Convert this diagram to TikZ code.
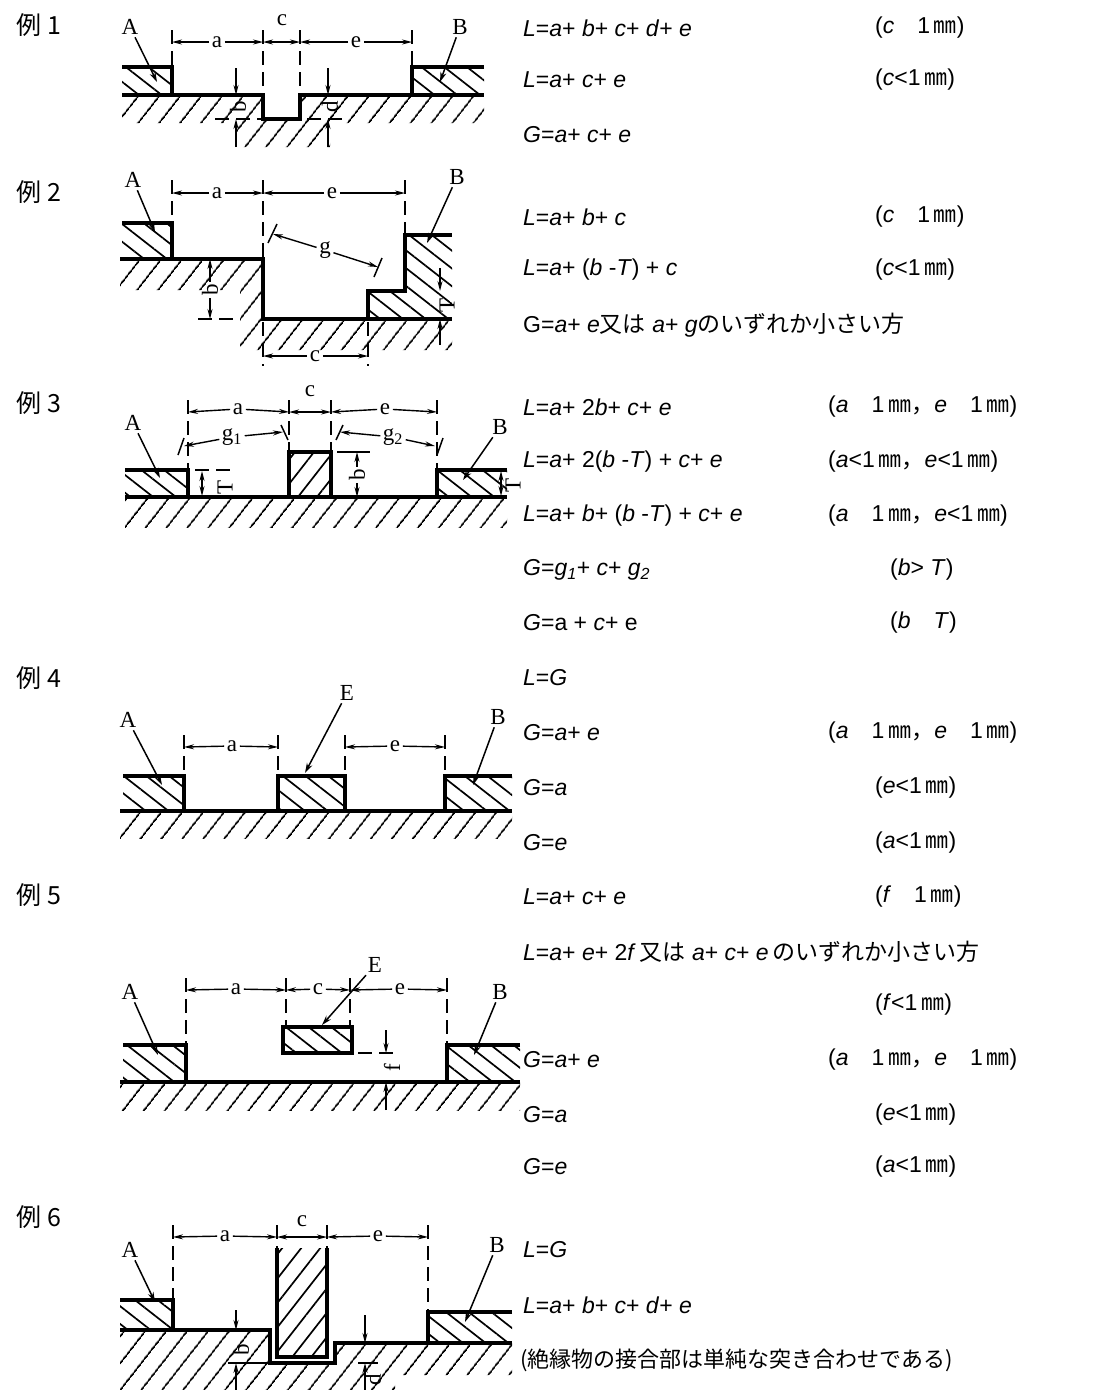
\documentclass[tikz,border=0pt]{standalone}
\usepackage{fontspec}
\usepackage{tikz}
\usetikzlibrary{arrows.meta,patterns.meta}
\setmainfont{Liberation Sans}
\newfontfamily\jpfont{Noto Sans CJK JP}
\newfontfamily\lbfont{Liberation Serif}
\newcommand{\fv}[1]{\textit{#1}}
\newcommand{\jp}[1]{{\jpfont #1}}
\newcommand{\gap}{\hspace{1em}}
\tikzset{
  body/.style={draw=black, line width=3.2pt, line join=miter},
  ext/.style={draw=black, line width=2pt, dash pattern=on 14pt off 7pt},
  dim/.style={draw=black, line width=1.4pt, -{Stealth[length=10pt,width=5pt]}},
  leader/.style={draw=black, line width=1.5pt, -{Stealth[length=10pt,width=6pt]}},
  tick/.style={draw=black, line width=1.5pt},
  gnd/.style={pattern={Lines[angle=52,distance=17pt,line width=1.8pt]}},
  ins/.style={pattern={Lines[angle=-38,distance=14pt,line width=1.7pt]}},
  post/.style={pattern={Lines[angle=52,distance=15pt,line width=1.7pt]}},
  lbl/.style={font=\lbfont\fontsize{23}{26}\selectfont, inner sep=2.5pt},
  exno/.style={font=\jpfont\fontsize{25}{28}\selectfont, inner sep=0pt},
  eq/.style={anchor=west, inner sep=0pt, font=\fontsize{23}{27}\selectfont}
}
\begin{document}
\begin{tikzpicture}[x=1pt, y=-1pt]
\useasboundingbox[fill=white] (0,0) rectangle (1097,1390);

% example 1
\node[exno] (n1) at (39,25) {例 1};
\fill[gnd] (122,95) -- (263,95) -- (263,119) -- (300,119) -- (300,95) -- (484,95) -- (484,123) -- (330,123) -- (330,147) -- (235,147) -- (235,123) -- (122,123) -- cycle;
\fill[ins] (122,67) rectangle (172,95);
\fill[ins] (412,67) rectangle (484,95);
\draw[body] (122,67) -- (172,67) -- (172,95);
\draw[body] (484,67) -- (412,67) -- (412,95);
\draw[body] (122,95) -- (263,95) -- (263,119) -- (300,119) -- (300,95) -- (484,95);
\draw[ext] (172,30) -- (172,67);
\draw[ext] (263,30) -- (263,95);
\draw[ext] (300,30) -- (300,95);
\draw[ext] (412,30) -- (412,67);
\node[lbl] (a1) at (217,42) {a};
\draw[dim] (a1) -- (172,42);
\draw[dim] (a1) -- (263,42);
\node[lbl] (c1) at (282,20) {c};
\coordinate (c1m) at (282,42);
\draw[dim] (c1m) -- (263,42);
\draw[dim] (c1m) -- (300,42);
\node[lbl] (e1) at (356,42) {e};
\draw[dim] (e1) -- (300,42);
\draw[dim] (e1) -- (412,42);
\node[lbl] (A1) at (130,27) {A};
\draw[leader] (A1) -- (157,82);
\node[lbl] (B1) at (460,27) {B};
\draw[leader] (B1) -- (440,82);
\draw[ext] (215,119) -- (263,119);
\draw[ext] (307,119) -- (345,119);
\node[lbl, rotate=90] (b1) at (238,107) {b};
\draw[dim] (236,68) -- (236,95);
\draw[dim] (236,147) -- (236,119);
\node[lbl, rotate=90] (d1) at (330,107) {d};
\draw[dim] (328,68) -- (328,95);
\draw[dim] (328,147) -- (328,119);

% example 2
\node[exno] (n2) at (39,192) {例 2};
\fill[gnd] (120,259) -- (263,259) -- (263,319) -- (452,319) -- (452,350) -- (240,350) -- (240,290) -- (120,290) -- cycle;
\fill[ins] (122,223) rectangle (172,259);
\fill[ins] (368,319) -- (368,291) -- (405,291) -- (405,235) -- (452,235) -- (452,319) -- cycle;
\draw[body] (122,223) -- (172,223) -- (172,259);
\draw[body] (368,319) -- (368,291) -- (405,291) -- (405,235) -- (452,235);
\draw[body] (120,259) -- (263,259) -- (263,319) -- (452,319);
\draw[ext] (172,180) -- (172,223);
\draw[ext] (263,180) -- (263,259);
\draw[ext] (405,180) -- (405,235);
\node[lbl] (a2) at (217,193) {a};
\draw[dim] (a2) -- (172,193);
\draw[dim] (a2) -- (263,193);
\node[lbl] (e2) at (332,193) {e};
\draw[dim] (e2) -- (263,193);
\draw[dim] (e2) -- (405,193);
\node[lbl] (A2) at (133,180) {A};
\draw[leader] (A2) -- (155,232);
\node[lbl] (B2) at (457,177) {B};
\draw[leader] (B2) -- (427,243);
\node[lbl] (g2) at (325,250) {g};
\draw[dim] (g2) -- (273,234);
\draw[dim] (g2) -- (378,267);
\draw[tick] (268,243) -- (277,224);
\draw[tick] (374,277) -- (382,258);
\node[lbl, rotate=90] (b2) at (210,290) {b};
\draw[dim] (b2) -- (210,259);
\draw[dim] (b2) -- (210,319);
\draw[ext] (198,319) -- (240,319);
\node[lbl, rotate=90] (T2) at (447,305) {T};
\draw[dim] (440,268) -- (440,291);
\draw[dim] (440,345) -- (440,319);
\draw[ext] (263,322) -- (263,366);
\draw[ext] (368,322) -- (368,366);
\node[lbl] (c2) at (315,356) {c};
\draw[dim] (c2) -- (263,356);
\draw[dim] (c2) -- (368,356);

% example 3
\node[exno] (n3) at (39,403) {例 3};
\fill[gnd] (125,497) rectangle (507,527);
\fill[ins] (125,470) rectangle (188,497);
\fill[ins] (437,470) rectangle (507,497);
\fill[post] (289,452) rectangle (331,497);
\draw[body] (125,470) -- (188,470) -- (188,497);
\draw[body] (289,497) -- (289,452) -- (331,452) -- (331,497);
\draw[body] (507,470) -- (437,470) -- (437,497);
\draw[body] (125,497) -- (507,497);
\draw[ext] (188,400) -- (188,470);
\draw[ext] (289,400) -- (289,452);
\draw[ext] (331,400) -- (331,452);
\draw[ext] (437,400) -- (437,470);
\node[lbl] (a3) at (238,409) {a};
\draw[dim] (a3) -- (188,412);
\draw[dim] (a3) -- (289,412);
\node[lbl] (c3) at (310,391) {c};
\coordinate (c3m) at (310,412);
\draw[dim] (c3m) -- (289,412);
\draw[dim] (c3m) -- (331,412);
\node[lbl] (e3) at (385,409) {e};
\draw[dim] (e3) -- (331,412);
\draw[dim] (e3) -- (437,412);
\node[lbl] (A3) at (133,423) {A};
\draw[leader] (A3) -- (160,478);
\node[lbl] (B3) at (500,427) {B};
\draw[leader] (B3) -- (463,480);
\node[lbl] (g31) at (232,437) {g\textsubscript{1}};
\draw[dim] (g31) -- (184,446);
\draw[dim] (g31) -- (283,432);
\draw[tick] (178,455) -- (184,438);
\draw[tick] (281,425) -- (288,440);
\node[lbl] (g32) at (393,437) {g\textsubscript{2}};
\draw[dim] (g32) -- (340,432);
\draw[dim] (g32) -- (435,446);
\draw[tick] (336,440) -- (343,425);
\draw[tick] (437,455) -- (443,438);
\draw[ext] (195,470) -- (232,470);
\node[lbl, rotate=90] (T31) at (225,487) {T};
\draw[dim] (202,484) -- (202,471);
\draw[dim] (202,484) -- (202,496);
\draw[tick] (337,452) -- (370,452);
\node[lbl, rotate=90] (b3) at (357,475) {b};
\draw[dim] (b3) -- (357,452);
\draw[dim] (b3) -- (357,497);
\node[lbl, rotate=90, inner sep=0pt] (T32) at (513,485) {T};
\draw[dim] (501,484) -- (501,471);
\draw[dim] (501,484) -- (501,496);

% example 4
\node[exno] (n4) at (39,678) {例 4};
\fill[gnd] (120,811) rectangle (512,838);
\fill[ins] (123,776) rectangle (184,811);
\fill[ins] (278,776) rectangle (345,811);
\fill[ins] (445,776) rectangle (512,811);
\draw[body] (123,776) -- (184,776) -- (184,811);
\draw[body] (278,811) -- (278,776) -- (345,776) -- (345,811);
\draw[body] (512,776) -- (445,776) -- (445,811);
\draw[body] (120,811) -- (512,811);
\draw[ext] (184,735) -- (184,776);
\draw[ext] (278,735) -- (278,776);
\draw[ext] (345,735) -- (345,776);
\draw[ext] (445,735) -- (445,776);
\node[lbl] (a4) at (232,746) {a};
\draw[dim] (a4) -- (184,747);
\draw[dim] (a4) -- (278,747);
\node[lbl] (e4) at (395,746) {e};
\draw[dim] (e4) -- (345,747);
\draw[dim] (e4) -- (445,747);
\node[lbl] (A4) at (128,720) {A};
\draw[leader] (A4) -- (162,785);
\node[lbl] (E4) at (347,693) {E};
\draw[leader] (E4) -- (305,773);
\node[lbl] (B4) at (498,717) {B};
\draw[leader] (B4) -- (473,785);

% example 5
\node[exno] (n5) at (39,895) {例 5};
\fill[gnd] (120,1082) rectangle (520,1110);
\fill[ins] (123,1045) rectangle (186,1082);
\fill[ins] (283,1027) rectangle (352,1053);
\fill[ins] (447,1045) rectangle (520,1082);
\draw[body] (123,1045) -- (186,1045) -- (186,1082);
\draw[body] (283,1027) rectangle (352,1053);
\draw[body] (520,1045) -- (447,1045) -- (447,1082);
\draw[body] (120,1082) -- (520,1082);
\draw[ext] (186,978) -- (186,1045);
\draw[ext] (286,978) -- (286,1027);
\draw[ext] (350,978) -- (350,1027);
\draw[ext] (447,978) -- (447,1045);
\node[lbl] (a5) at (236,989) {a};
\draw[dim] (a5) -- (186,990);
\draw[dim] (a5) -- (286,990);
\node[lbl] (c5) at (318,989) {c};
\draw[dim] (c5) -- (286,990);
\draw[dim] (c5) -- (350,990);
\node[lbl] (e5) at (400,989) {e};
\draw[dim] (e5) -- (350,990);
\draw[dim] (e5) -- (447,990);
\node[lbl] (A5) at (130,992) {A};
\draw[leader] (A5) -- (158,1055);
\node[lbl] (E5) at (375,965) {E};
\draw[leader] (E5) -- (322,1025);
\node[lbl] (B5) at (500,992) {B};
\draw[leader] (B5) -- (474,1055);
\draw[ext] (358,1053) -- (395,1053);
\node[lbl, rotate=90] (f5) at (392,1068) {f};
\draw[dim] (386,1030) -- (386,1053);
\draw[dim] (386,1110) -- (386,1082);

% example 6
\node[exno] (n6) at (39,1217) {例 6};
\fill[gnd] (120,1330) -- (270,1330) -- (270,1363) -- (335,1363) -- (335,1343) -- (512,1343) -- (512,1375) -- (395,1375) -- (395,1390) -- (120,1390) -- cycle;
\fill[ins] (120,1300) rectangle (173,1330);
\fill[ins] (428,1312) rectangle (512,1343);
\fill[post] (277,1248) rectangle (327,1357);
\draw[body] (120,1300) -- (173,1300) -- (173,1330);
\draw[body] (512,1312) -- (428,1312) -- (428,1343);
\draw[body] (120,1330) -- (270,1330) -- (270,1363) -- (335,1363) -- (335,1343) -- (512,1343);
\draw[body] (277,1248) -- (277,1357) -- (327,1357) -- (327,1248);
\draw[ext] (173,1225) -- (173,1300);
\draw[ext] (277,1225) -- (277,1248);
\draw[ext] (327,1225) -- (327,1248);
\draw[ext] (428,1225) -- (428,1312);
\node[lbl] (a6) at (225,1236) {a};
\draw[dim] (a6) -- (173,1237);
\draw[dim] (a6) -- (277,1237);
\node[lbl] (c6) at (302,1221) {c};
\coordinate (c6m) at (302,1237);
\draw[dim] (c6m) -- (277,1237);
\draw[dim] (c6m) -- (327,1237);
\node[lbl] (e6) at (378,1236) {e};
\draw[dim] (e6) -- (327,1237);
\draw[dim] (e6) -- (428,1237);
\node[lbl] (A6) at (130,1250) {A};
\draw[leader] (A6) -- (155,1302);
\node[lbl] (B6) at (497,1245) {B};
\draw[leader] (B6) -- (465,1322);
\draw[dim] (236,1310) -- (236,1330);
\draw[dim] (236,1390) -- (236,1363);
\node[lbl, rotate=90] (b6) at (241,1350) {b};
\draw[tick] (228,1363) -- (270,1363);
\draw[dim] (365,1315) -- (365,1343);
\draw[dim] (365,1392) -- (365,1363);
\draw[tick] (358,1363) -- (378,1363);
\node[lbl, rotate=90] (d6) at (373,1380) {d};

% formulas
\node[eq] (f1a) at (523,28) {\fv{L}=\fv{a}+ \fv{b}+ \fv{c}+ \fv{d}+ \fv{e}};
\node[eq] (k1a) at (875,28) {(\fv{c}\gap 1\,\jp{㎜})};
\node[eq] (f1b) at (523,80) {\fv{L}=\fv{a}+ \fv{c}+ \fv{e}};
\node[eq] (k1b) at (875,80) {(\fv{c}<1\,\jp{㎜})};
\node[eq] (f1c) at (523,135) {\fv{G}=\fv{a}+ \fv{c}+ \fv{e}};

\node[eq] (f2a) at (523,217) {\fv{L}=\fv{a}+ \fv{b}+ \fv{c}};
\node[eq] (k2a) at (875,217) {(\fv{c}\gap 1\,\jp{㎜})};
\node[eq] (f2b) at (523,270) {\fv{L}=\fv{a}+ (\fv{b} -\fv{T}) + \fv{c}};
\node[eq] (k2b) at (875,270) {(\fv{c}<1\,\jp{㎜})};
\node[eq] (f2c) at (523,325) {G=\fv{a}+ \fv{e}\jp{又は} \fv{a}+ \fv{g}\jp{のいずれか小さい方}};

\node[eq] (f3a) at (523,407) {\fv{L}=\fv{a}+ 2\fv{b}+ \fv{c}+ \fv{e}};
\node[eq] (k3a) at (828,407) {(\fv{a}\gap 1\,\jp{㎜，}\fv{e}\gap 1\,\jp{㎜})};
\node[eq] (f3b) at (523,462) {\fv{L}=\fv{a}+ 2(\fv{b} -\fv{T}) + \fv{c}+ \fv{e}};
\node[eq] (k3b) at (828,462) {(\fv{a}<1\,\jp{㎜，}\fv{e}<1\,\jp{㎜})};
\node[eq] (f3c) at (523,516) {\fv{L}=\fv{a}+ \fv{b}+ (\fv{b} -\fv{T}) + \fv{c}+ \fv{e}};
\node[eq] (k3c) at (828,516) {(\fv{a}\gap 1\,\jp{㎜，}\fv{e}<1\,\jp{㎜})};
\node[eq] (f3d) at (523,570) {\fv{G}=\fv{g}\textsubscript{\fv{1}}+ \fv{c}+ \fv{g}\textsubscript{\fv{2}}};
\node[eq] (k3d) at (890,570) {(\fv{b}> \fv{T})};
\node[eq] (f3e) at (523,623) {\fv{G}=a + \fv{c}+ e};
\node[eq] (k3e) at (890,623) {(\fv{b}\gap\fv{T})};

\node[eq] (f4a) at (523,678) {\fv{L}=\fv{G}};
\node[eq] (f4b) at (523,733) {\fv{G}=\fv{a}+ \fv{e}};
\node[eq] (k4b) at (828,733) {(\fv{a}\gap 1\,\jp{㎜，}\fv{e}\gap 1\,\jp{㎜})};
\node[eq] (f4c) at (523,788) {\fv{G}=\fv{a}};
\node[eq] (k4c) at (875,788) {(\fv{e}<1\,\jp{㎜})};
\node[eq] (f4d) at (523,843) {\fv{G}=\fv{e}};
\node[eq] (k4d) at (875,843) {(\fv{a}<1\,\jp{㎜})};

\node[eq] (f5a) at (523,897) {\fv{L}=\fv{a}+ \fv{c}+ \fv{e}};
\node[eq] (k5a) at (875,897) {(\fv{f}\gap 1\,\jp{㎜})};
\node[eq] (f5b) at (523,952) {\fv{L}=\fv{a}+ \fv{e}+ 2\fv{f}\,\jp{又は} \fv{a}+ \fv{c}+ \fv{e}\,\jp{のいずれか小さい方}};
\node[eq] (k5b) at (875,1005) {(\fv{f}<1\,\jp{㎜})};
\node[eq] (f5c) at (523,1060) {\fv{G}=\fv{a}+ \fv{e}};
\node[eq] (k5c) at (828,1060) {(\fv{a}\gap 1\,\jp{㎜，}\fv{e}\gap 1\,\jp{㎜})};
\node[eq] (f5d) at (523,1115) {\fv{G}=\fv{a}};
\node[eq] (k5d) at (875,1115) {(\fv{e}<1\,\jp{㎜})};
\node[eq] (f5e) at (523,1167) {\fv{G}=\fv{e}};
\node[eq] (k5e) at (875,1167) {(\fv{a}<1\,\jp{㎜})};

\node[eq] (f6a) at (523,1250) {\fv{L}=\fv{G}};
\node[eq] (f6b) at (523,1305) {\fv{L}=\fv{a}+ \fv{b}+ \fv{c}+ \fv{d}+ \fv{e}};
\node[eq, font=\fontsize{22}{26}\selectfont] (f6c) at (520,1360) {\jp{(絶縁物の接合部は単純な突き合わせである)}};
\end{tikzpicture}
\end{document}
